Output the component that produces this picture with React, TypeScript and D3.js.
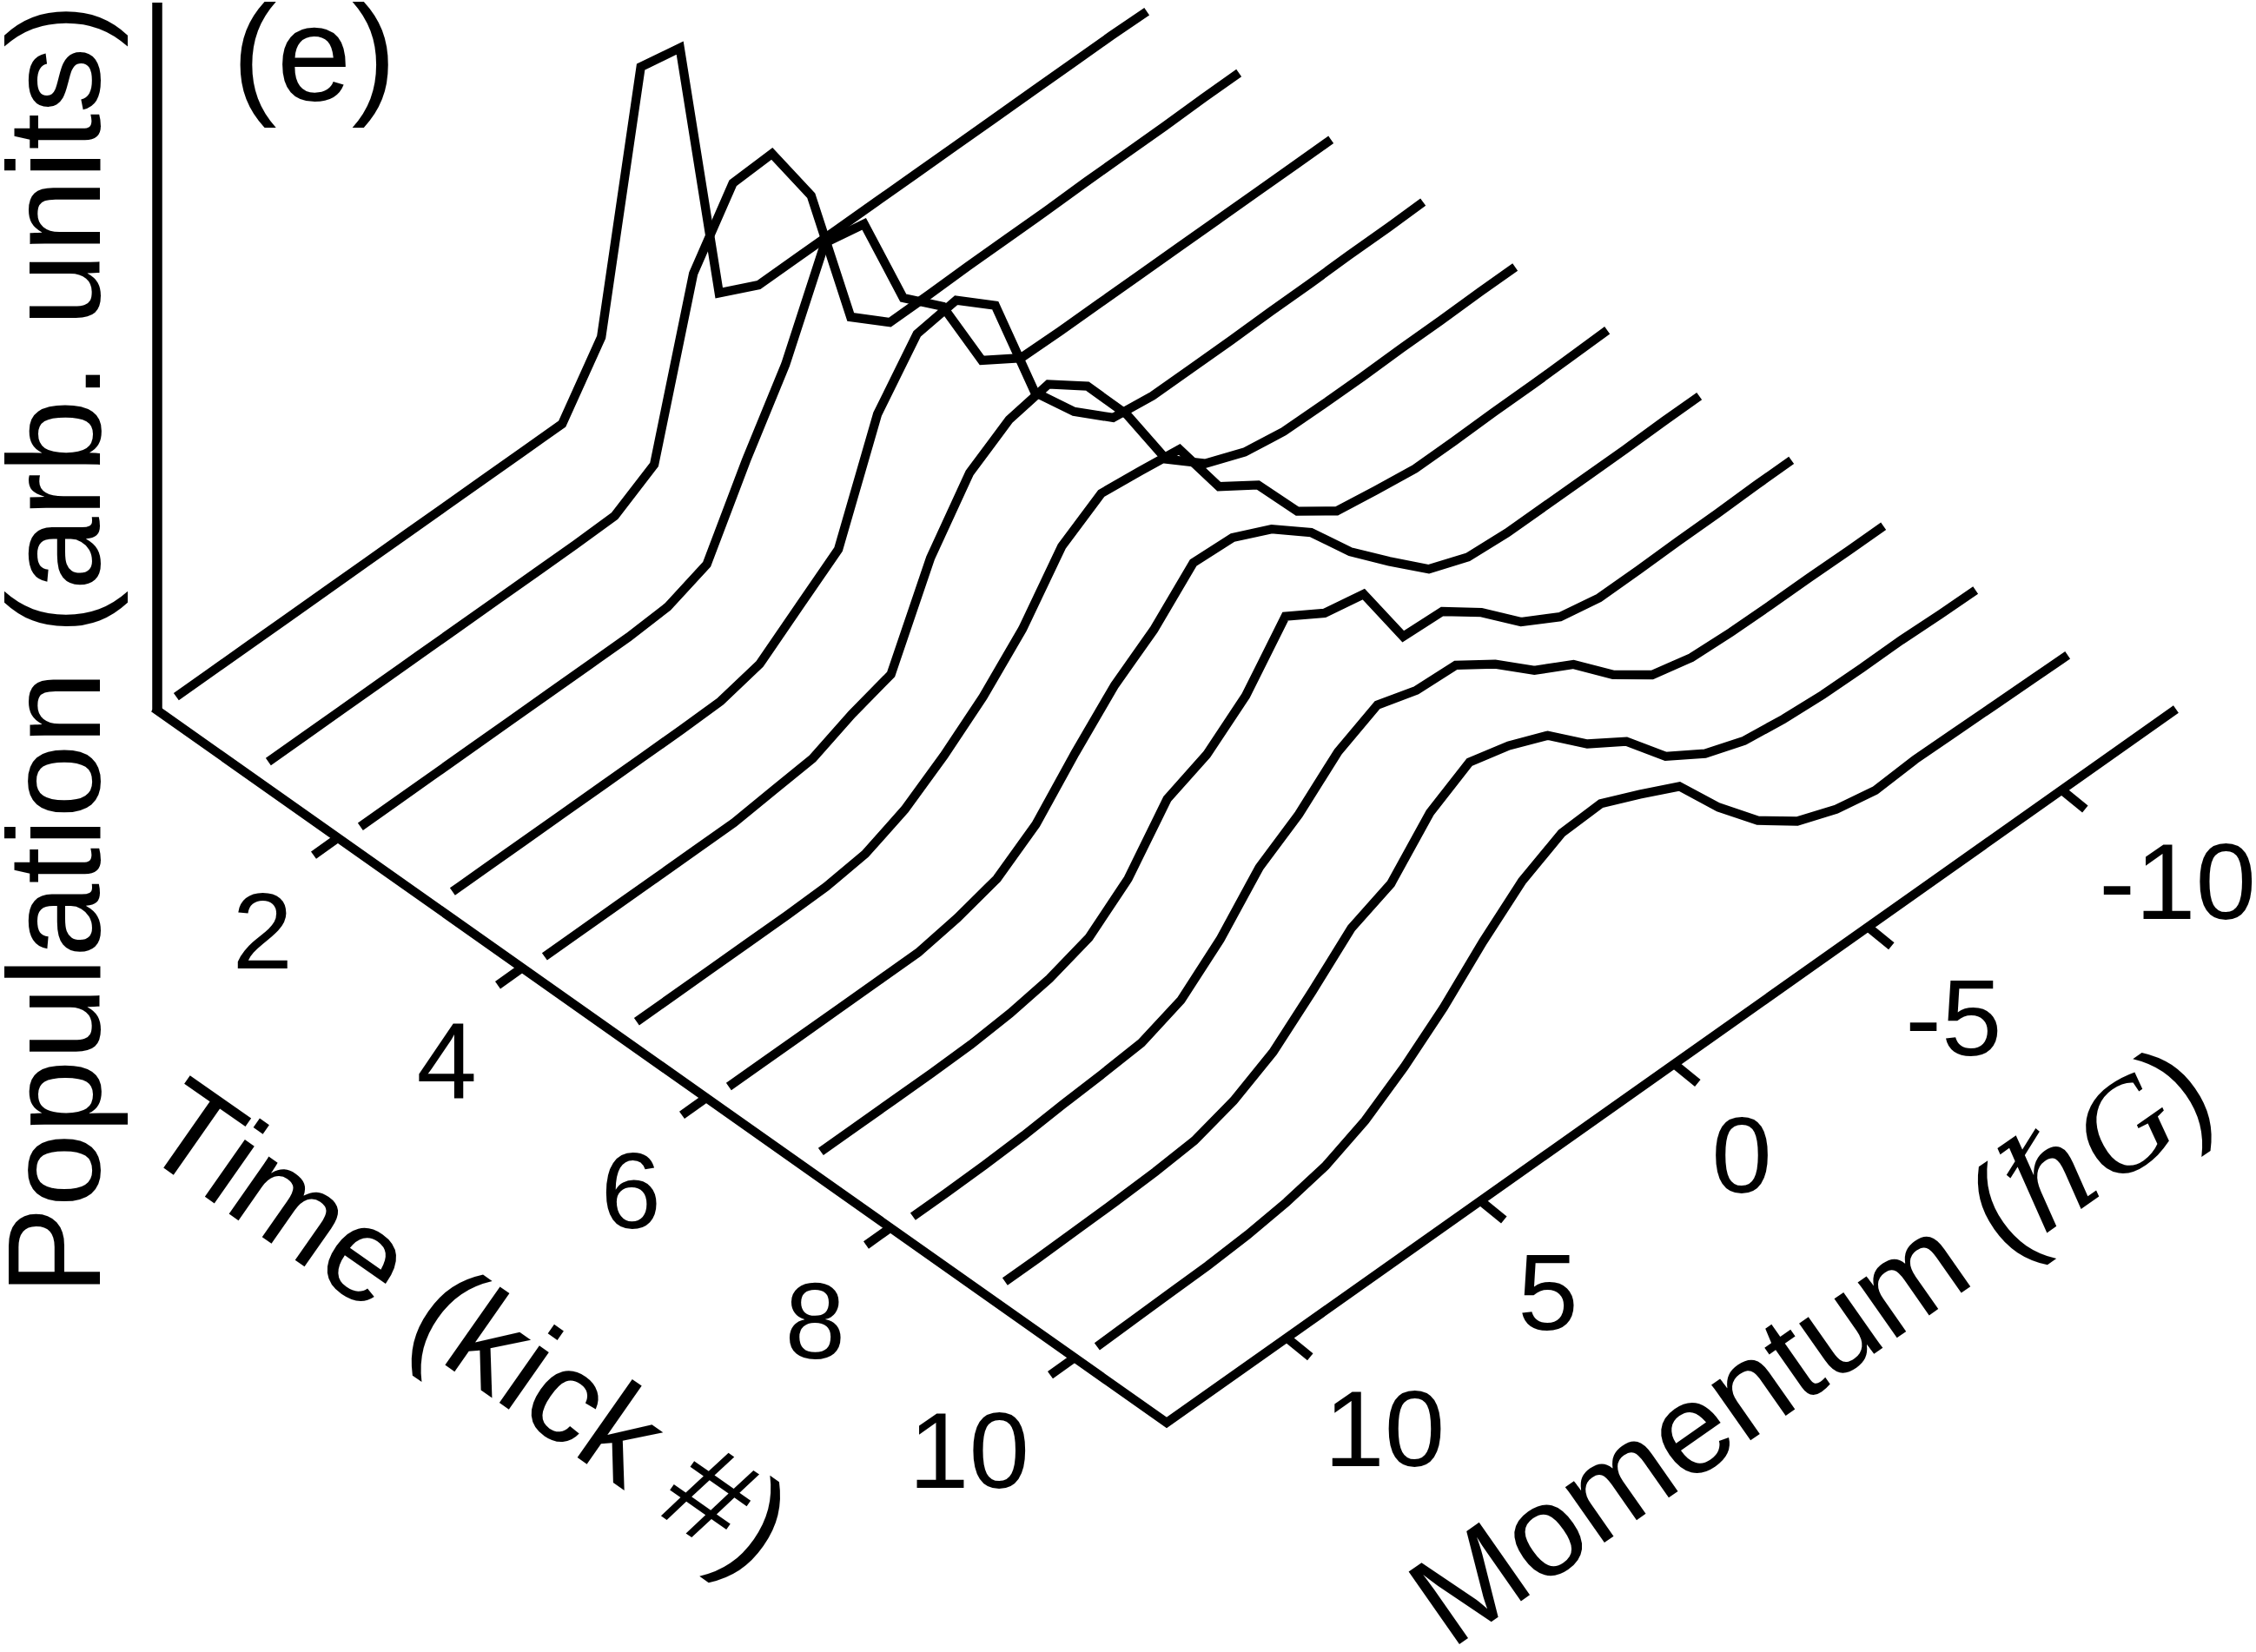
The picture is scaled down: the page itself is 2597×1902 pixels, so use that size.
import * as d3 from "d3";

const momentum = [
  12.52, 11.68, 10.67, 9.66, 8.64, 7.63, 6.62, 5.6, 4.59, 3.58, 2.56, 1.55, 0.53,
  -0.48, -1.49, -2.51, -3.52, -4.53, -5.55, -6.56, -7.57, -8.59, -9.6, -10.61, -11.63, -12.53,
];

// population (arb. units) per kick, same order as momentum
const kick0 = [0, 0, 0, 0, 0, 0, 0, 0, 0, 0, 0, 6.8, 34.7, 33.7, 2.3, 0, 0, 0, 0, 0, 0, 0, 0, 0, 0, -0.1];
const kick1 = [0, 0, 0, 0, 0, 0, 0, 0, 0, 0.1, 2.8, 21.6, 28.8, 29, 21, 3.8, 0, 0, 0.1, 0.1, 0.1, 0.2, 0.2, 0.2, 0.3, 0.3];
const kick2 = [0, 0, 0, 0, 0, 0, 0, 0, 0.3, 2, 10.8, 18.6, 29.4, 28.4, 16.7, 12.5, 3.1, 0.2, 0.1, 0.1, 0.1, 0.1, 0.1, 0.1, 0.1, 0.1];
const kick3 = [0, 0, 0, 0, 0, 0, 0, 0.1, 1.2, 4.6, 8, 20.4, 26.4, 27.1, 23.3, 10.1, 4.7, 0.8, 0.1, 0.1, 0.1, 0.2, 0.2, 0.3, 0.3, 0.4];
const kick4 = [0, 0, 0, 0, 0, 0, 0.5, 1, 2.9, 4.3, 14.5, 21.1, 24, 24.9, 21.5, 15, 6.7, 3, 1.1, 0.3, 0.2, 0.2, 0.3, 0.3, 0.4, 0.4];
const kick5 = [0, 0, 0, 0, 0, 0.1, 0.7, 2.6, 5.6, 9.2, 13.8, 20.1, 23, 22.4, 21.7, 14.2, 11.2, 5, 1.8, 1, 0.3, 0.3, 0.4, 0.4, 0.5, 0.6];
const kick6 = [0, 0, 0, 0, 0, 0, 0.8, 2.1, 5.2, 10.2, 14.8, 18, 22.5, 22.2, 20, 16.4, 11, 6.7, 2.6, 0.8, 0.4, 0.4, 0.4, 0.4, 0.5, 0.5];
const kick7 = [0, 0, 0, 0, 0.1, 0.5, 1.3, 2.8, 6.4, 12.4, 14.3, 17.9, 23.8, 21, 20, 11.9, 11.6, 8.3, 4, 1.4, 0.4, 0.4, 0.5, 0.5, 0.6, 0.6];
const kick8 = [0, 0, 0.1, 0.3, 0.7, 1, 1.4, 3.1, 6.9, 12, 14.9, 18.9, 21.1, 19.6, 19.3, 16.2, 12.3, 9.8, 5.4, 2.2, 1, 0.7, 0.6, 0.6, 0.5, 0.5];
const kick9 = [0, 0, 0.1, 0.2, 0.4, 0.8, 2.2, 4.6, 8.4, 12.5, 14.4, 19.4, 22, 20.7, 18.7, 14.5, 11.6, 6.7, 3.8, 2.1, 1.4, 1, 0.9, 0.9, 0.7, 0.6];
const kick10 = [0, 0.1, 0.2, 0.3, 0.6, 1.2, 2.2, 4.2, 7.2, 10.8, 15.2, 19, 21.3, 21.5, 19.4, 17.1, 11.5, 6.8, 3.5, 1.7, 0.7, 1, 0.9, 0.8, 0.7, 0.6];
const traces = [kick0, kick1, kick2, kick3, kick4, kick5, kick6, kick7, kick8, kick9, kick10];

const timeTicks = [2, 4, 6, 8, 10];
const momentumTicks = [10, 5, 0, -5, -10];

const width = 2597;
const height = 1902;

// oblique projection: each axis adds its own screen offset
const tX = d3.scaleLinear().domain([0, 11]).range([177, 1343]);
const tY = d3.scaleLinear().domain([0, 11]).range([815, 1638]);
const pX = d3.scaleLinear().domain([13.1, 0]).range([0, 584.3]);
const pRise = 0.707;
const zY = d3.scaleLinear().domain([0, 81]).range([5.4, -804.6]);

const floorX = (t: number, p: number) => tX(t) + pX(p);
const floorY = (t: number, p: number) => tY(t) - pRise * pX(p);

const font = "'Liberation Sans', Arial, sans-serif";
const serif = "'Liberation Serif', 'DejaVu Serif', serif";
const strokeW = 10.3;

export default function App() {
  const traceLine = (t: number) =>
    d3
      .line<number>()
      .x((_, i) => floorX(t, momentum[i]))
      .y((d, i) => floorY(t, momentum[i]) + zY(d));

  return (
    <svg
      width={width}
      height={height}
      style={{ position: "absolute", left: 0, top: 0, display: "block", background: "#fff" }}
    >
      {/* population axis */}
      <line x1={181} x2={181} y1={3} y2={818} stroke="#000" strokeWidth={11.5} />

      {/* floor axes */}
      <path
        d={`M${floorX(0, 13.1)},${floorY(0, 13.1)}L${floorX(11, 13.1)},${floorY(11, 13.1)}L${floorX(11, -12.95)},${floorY(11, -12.95)}`}
        fill="none"
        stroke="#000"
        strokeWidth={strokeW}
      />

      {timeTicks.map((t) => {
        const x = floorX(t, 13.1);
        const y = floorY(t, 13.1);
        return (
          <g key={t}>
            <line x1={x} y1={y} x2={x - 28} y2={y + 20} stroke="#000" strokeWidth={strokeW} />
            <text x={x - 52} y={y + 150} textAnchor="end" fontFamily={font} fontSize={125}>
              {t}
            </text>
          </g>
        );
      })}

      {momentumTicks.map((p) => {
        const x = floorX(11, p);
        const y = floorY(11, p);
        return (
          <g key={p}>
            <line x1={x} y1={y} x2={x + 27} y2={y + 22} stroke="#000" strokeWidth={strokeW} />
            <text x={x + 43} y={y + 148} fontFamily={font} fontSize={125}>
              {p}
            </text>
          </g>
        );
      })}

      {traces.map((values, t) => (
        <path
          key={t}
          d={traceLine(t)(values) ?? ""}
          fill="none"
          stroke="#000"
          strokeWidth={strokeW}
          strokeLinejoin="miter"
        />
      ))}

      <text x={267} y={115} fontFamily={font} fontSize={155}>
        (e)
      </text>
      <text transform="translate(115,1491) rotate(-90)" fontFamily={font} fontSize={152}>
        Population (arb. units)
      </text>
      <text transform="translate(156,1322) rotate(35)" fontFamily={font} fontSize={152}>
        Time (kick #)
      </text>
      <text transform="translate(1670,1900) rotate(-35)" fontFamily={font} fontSize={148}>
        Momentum (
        <tspan fontFamily={serif} fontStyle="italic">
          ℏG
        </tspan>
        )
      </text>
    </svg>
  );
}
